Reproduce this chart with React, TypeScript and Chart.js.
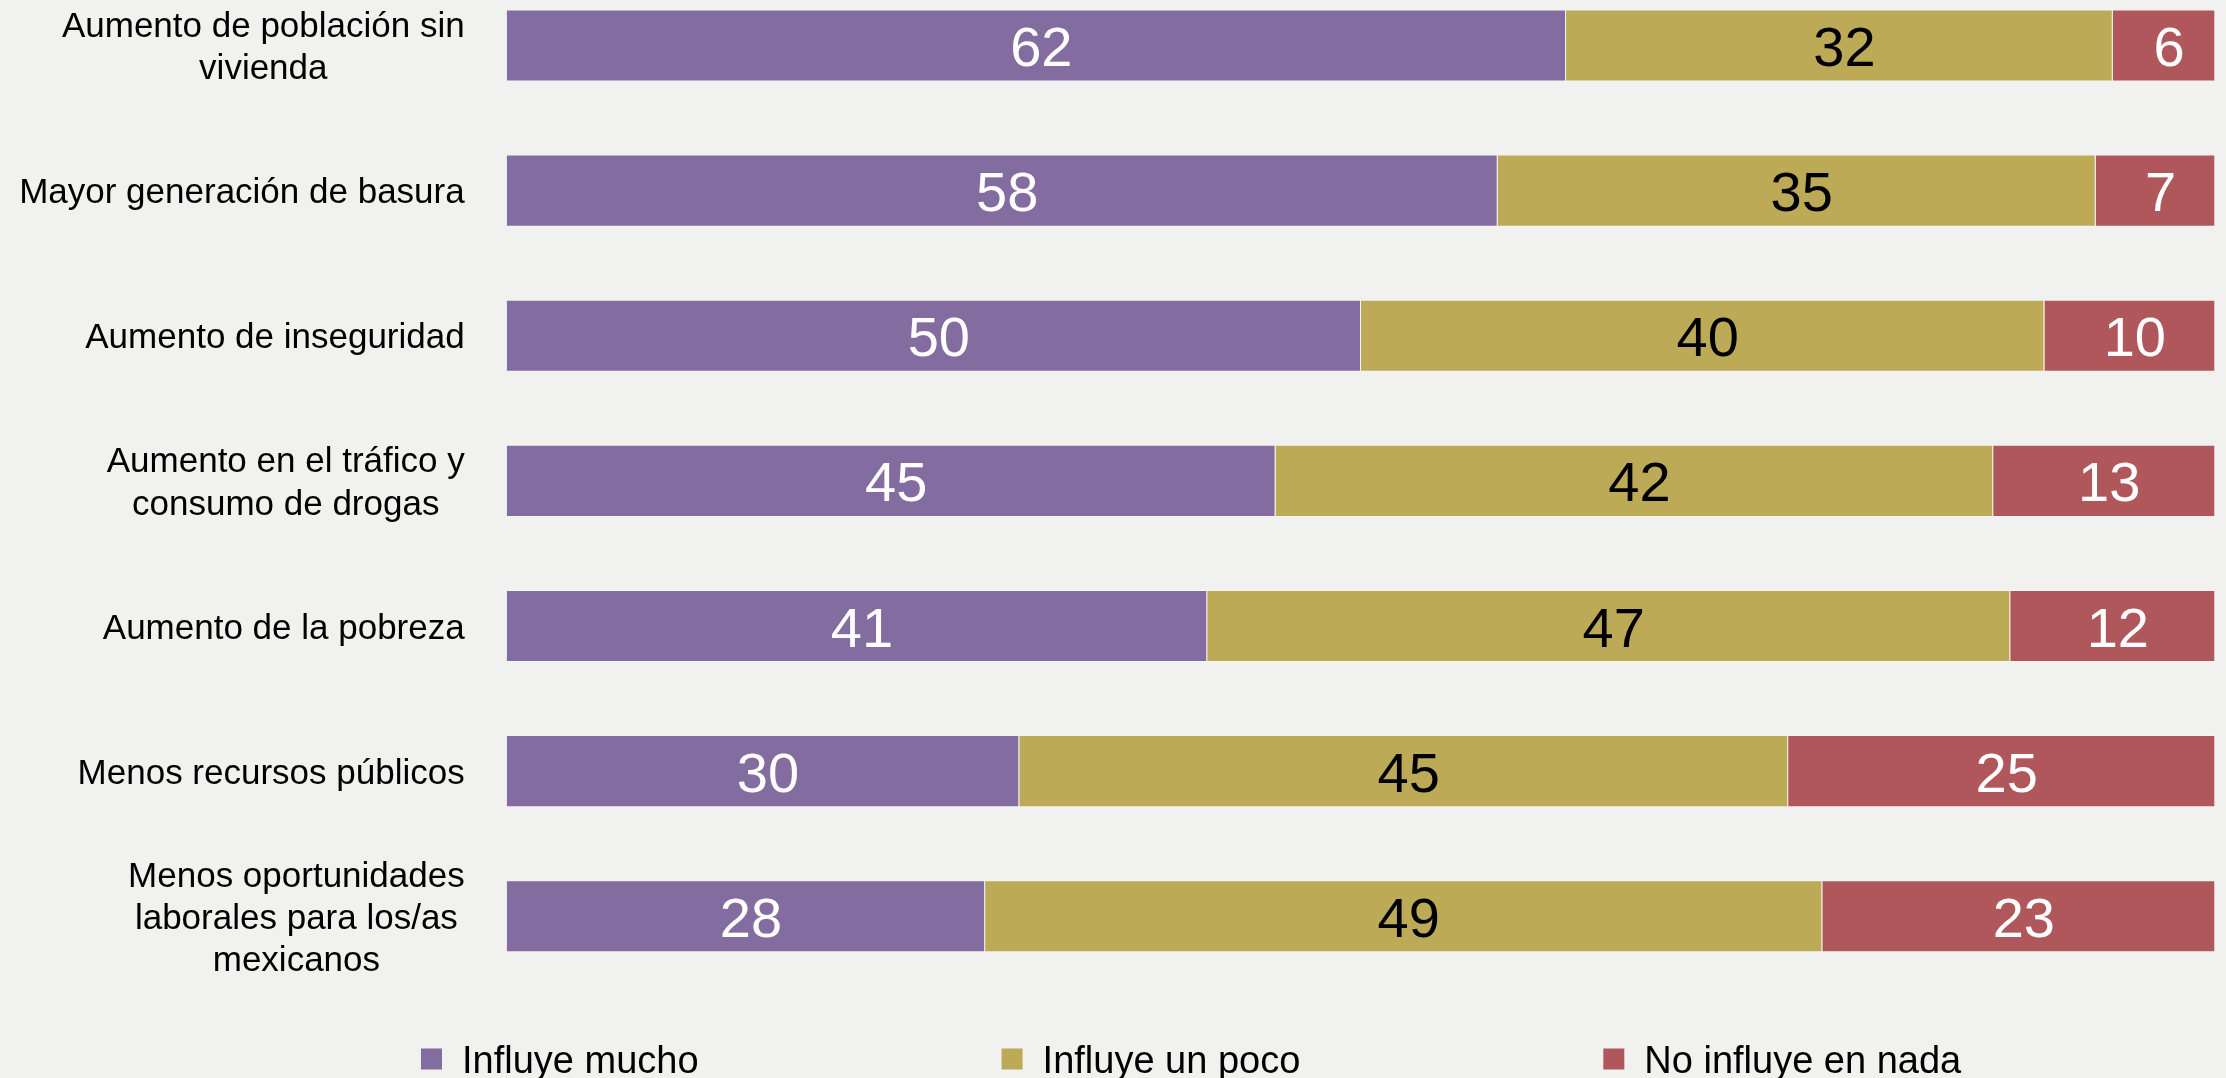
import React, { useEffect, useRef } from "react";
import { Chart, registerables } from "chart.js";

Chart.register(...registerables);

const categories: string[][] = [
  ["Aumento de población sin", "vivienda"],
  ["Mayor generación de basura"],
  ["Aumento de inseguridad"],
  ["Aumento en el tráfico y", "consumo de drogas"],
  ["Aumento de la pobreza"],
  ["Menos recursos públicos"],
  ["Menos oportunidades", "laborales para los/as", "mexicanos"],
];

const seriesNames = ["Influye mucho", "Influye un poco", "No influye en nada"];
const influyeMucho = [62, 58, 50, 45, 41, 30, 28];
const influyeUnPoco = [32, 35, 40, 42, 47, 45, 49];
const noInfluye = [6, 7, 10, 13, 12, 25, 23];

const seriesColors = ["#836ca0", "#bdaa56", "#b0575c"];
const valueLabelColors = ["#ffffff", "#000000", "#ffffff"];

const FONT = "'Liberation Sans', Arial, sans-serif";
const BG = "#f1f1ef";

const overlayPlugin = {
  id: "overlay",
  afterDatasetsDraw(chart: any) {
    const ctx = chart.ctx as CanvasRenderingContext2D;
    // value labels inside each segment
    ctx.save();
    ctx.font = `56px ${FONT}`;
    ctx.textAlign = "center";
    ctx.textBaseline = "alphabetic";
    chart.data.datasets.forEach((ds: any, di: number) => {
      const meta = chart.getDatasetMeta(di);
      meta.data.forEach((el: any, i: number) => {
        const v = ds.data[i];
        const cx = (el.x + el.base) / 2 + 5;
        ctx.fillStyle = valueLabelColors[di];
        ctx.fillText(String(v), cx, el.y + 20.5);
      });
    });
    ctx.restore();
  },
  afterDraw(chart: any) {
    const ctx = chart.ctx as CanvasRenderingContext2D;
    const area = chart.chartArea;
    const yScale = chart.scales.y;
    // category labels: block right-aligned, lines centered within block
    ctx.save();
    const size = 35;
    const lineH = 42.3;
    ctx.font = `${size}px ${FONT}`;
    ctx.fillStyle = "#000000";
    ctx.textAlign = "center";
    ctx.textBaseline = "alphabetic";
    const rightEdge = area.left - 42;
    categories.forEach((lines, i) => {
      const y = yScale.getPixelForValue(i);
      const w = Math.max(...lines.map((l) => ctx.measureText(l).width));
      const cx = rightEdge - w / 2;
      lines.forEach((line, j) => {
        const ly = y + (j - (lines.length - 1) / 2) * lineH + (size * 0.716) / 2;
        ctx.fillText(line, cx, ly);
      });
    });
    ctx.restore();

    // legend
    ctx.save();
    const lsize = 38;
    ctx.font = `${lsize}px ${FONT}`;
    ctx.textAlign = "left";
    ctx.textBaseline = "alphabetic";
    const legendY = 1059;
    let x = 421;
    chart.data.datasets.forEach((ds: any) => {
      ctx.fillStyle = ds.backgroundColor;
      ctx.fillRect(x, legendY - 10.5, 21, 21);
      x += 21 + 20;
      ctx.fillStyle = "#000000";
      ctx.fillText(ds.label, x, legendY + (lsize * 0.716) / 2);
      x += ctx.measureText(ds.label).width + 303;
    });
    ctx.restore();
  },
};

export default function App() {
  const canvasRef = useRef<HTMLCanvasElement | null>(null);

  useEffect(() => {
    const canvas = canvasRef.current;
    if (!canvas) return;
    const seriesValues = [influyeMucho, influyeUnPoco, noInfluye];
    const chart = new Chart(canvas, {
      type: "bar",
      data: {
        labels: categories.map((c) => c.join(" ")),
        datasets: seriesValues.map((vals, i) => ({
          label: seriesNames[i],
          data: vals,
          backgroundColor: seriesColors[i],
          borderColor: "rgba(255,255,255,0.3)",
          borderWidth: 1,
          categoryPercentage: 1,
          barPercentage: 0.497,
          clip: false as any,
        })),
      },
      options: {
        indexAxis: "y",
        responsive: false,
        maintainAspectRatio: false,
        animation: false,
        devicePixelRatio: 1,
        layout: {
          padding: { left: 506.7, right: 10.7, top: 45.5, bottom: 161.7 },
        },
        scales: {
          x: { display: false, stacked: true, min: 0, max: 100 },
          y: { display: false, stacked: true, offset: false },
        },
        plugins: {
          legend: { display: false },
          tooltip: { enabled: false },
        },
      },
      plugins: [overlayPlugin],
    });
    return () => chart.destroy();
  }, []);

  return (
    <div
      style={{
        position: "fixed",
        left: 0,
        top: 0,
        width: 2226,
        height: 1078,
        background: BG,
      }}
    >
      <canvas
        ref={canvasRef}
        width={2226}
        height={1078}
        style={{ display: "block", width: 2226, height: 1078 }}
      />
    </div>
  );
}
